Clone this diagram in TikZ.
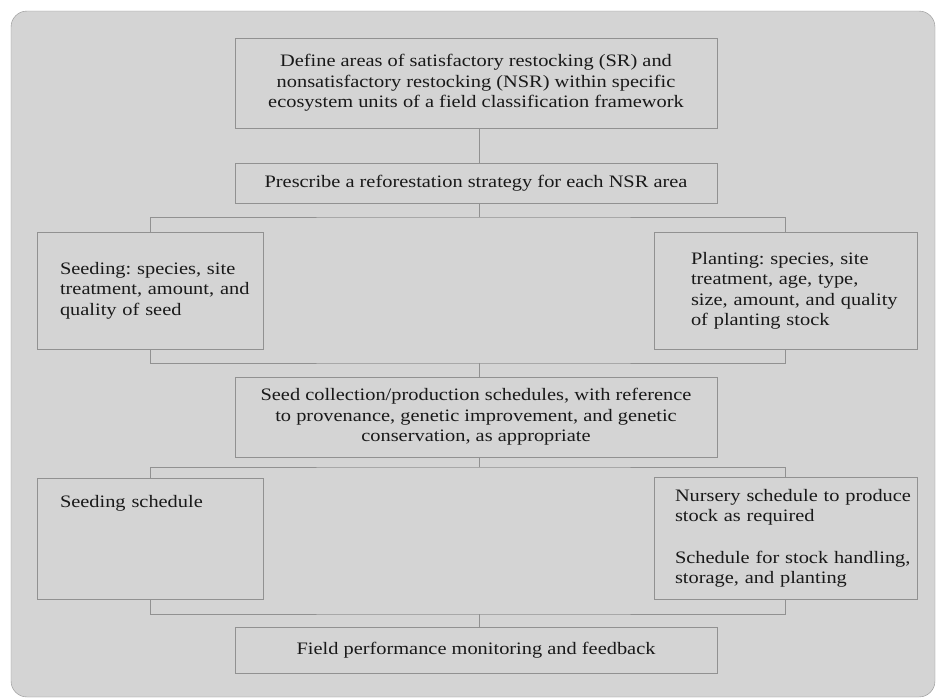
\documentclass[tikz,border=0pt]{standalone}
\usepackage{fontspec}
\setmainfont[FakeStretch=1.165]{Liberation Serif}
\usepackage{xcolor}
\usetikzlibrary{positioning}
\definecolor{FRFill}{RGB}{212,212,212}
\definecolor{FRLine}{RGB}{145,145,145}
\definecolor{FRText}{RGB}{25,25,25}
\frenchspacing

\begin{document}
\begin{tikzpicture}[
  x=1pt, y=-1pt,
  node distance=35pt,
  box/.style={draw=FRLine, fill=FRFill, inner sep=0pt, text=FRText, font=\fontsize{17.5}{20.5}\selectfont},
  widebox/.style={box, align=center, minimum width=482pt},
  sidebox/.style={box, align=left, anchor=north, inner xsep=5pt},
  pushright/.style={execute at begin node={\leftskip=#1\relax}},
  line/.style={draw=FRLine, line width=0.9pt}
]
\useasboundingbox (0,0) rectangle (937,699);
\draw[draw=FRLine, fill=FRFill, rounded corners=16pt] (11,11) rectangle (935,697);

\node[widebox, minimum height=90pt] (define) at (476,83) {Define areas of satisfactory restocking (SR) and\\nonsatisfactory restocking (NSR) within specific\\ecosystem units of a field classification framework};
\node[widebox, minimum height=40pt, below=35pt of define] (prescribe) {Prescribe a reforestation strategy for each NSR area};
\node[sidebox, minimum height=117pt, text width=216pt, pushright=18pt] (seeding) at (150,232) {Seeding: species, site\\treatment, amount, and\\quality of seed};
\node[sidebox, minimum height=117pt, text width=253pt, pushright=32pt] (planting) at (785.5,232) {Planting: species, site\\treatment, age, type,\\size, amount, and quality\\of planting stock};
\node[widebox, minimum height=80pt, below=173pt of prescribe] (collection) {Seed collection/production schedules, with reference\\to provenance, genetic improvement, and genetic\\conservation, as appropriate};
\node[sidebox, text width=216pt, pushright=18pt, inner ysep=17pt, text height=12pt, text depth=75pt] (seedsched) at (150,478) {Seeding schedule};
\node[sidebox, minimum height=122pt, text width=253pt, pushright=16pt] (nursery) at (785.5,477) {Nursery schedule to produce\\stock as required\\[21pt]Schedule for stock handling,\\storage, and planting};
\node[widebox, minimum height=46pt, below=170pt of collection] (field) {Field performance monitoring and feedback};

% branching and joining lines (trunk sits a little right of centre)
\coordinate (split1) at (479,217);
\coordinate (join1) at (479,363);
\coordinate (split2) at (479,467);
\coordinate (join2) at (479,614);

\draw[line] (define.south -| split1) -- (prescribe.north -| split1);
\draw[line] (prescribe.south -| split1) -- (split1);
\draw[line] (seeding.north) |- (split1) -| (planting.north);
\draw[line] (seeding.south) |- (join1) -| (planting.south);
\draw[line] (join1) -- (collection.north -| join1);
\draw[line] (collection.south -| split2) -- (split2);
\draw[line] (seedsched.north) |- (split2) -| (nursery.north);
\draw[line] (seedsched.south) |- (join2) -| (nursery.south);
\draw[line] (join2) -- (field.north -| join2);
\end{tikzpicture}
\end{document}
